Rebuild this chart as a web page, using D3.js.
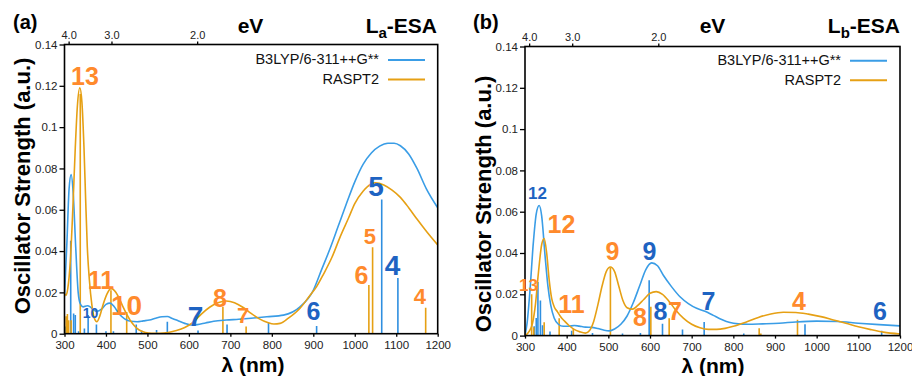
<!DOCTYPE html>
<html><head><meta charset="utf-8">
<script src="https://cdn.jsdelivr.net/npm/d3@7/dist/d3.min.js"></script>
<style>
body{margin:0;background:#fff}
svg{display:block}
text{font-family:"Liberation Sans",Arial,Helvetica,sans-serif}
</style>
</head><body>
<svg id="chart" width="912" height="376"></svg>
<script>
// ---------------- data ----------------
const xTicks = [300,400,500,600,700,800,900,1000,1100,1200];
const yTicks = [0,0.02,0.04,0.06,0.08,0.10,0.12,0.14];
const yTickLabels = ["0","0.02","0.04","0.06","0.08","0.1","0.12","0.14"];
const eVTicks = [4.0,3.0,2.0];
const eVTickLabels = ["4.0","3.0","2.0"];
const seriesNames = ["B3LYP/6-311++G**","RASPT2"];
const panelTags = ["(a)","(b)"];
const panelStates = [["L","a","-ESA"],["L","b","-ESA"]];

// Panel (a) La-ESA : broadened spectra [lambda nm, f]
const laB3lypCurve = [[300,0.018],[306,0.045],[311,0.070],[316,0.077],[321,0.068],[327,0.042],[333,0.020],[338,0.0145],[345,0.013],[355,0.0135],[362,0.013],[370,0.0115],[378,0.0108],[390,0.012],[400,0.0142],[410,0.0148],[420,0.013],[432,0.0095],[445,0.0072],[460,0.006],[475,0.0058],[490,0.0062],[505,0.0066],[520,0.0075],[535,0.0082],[548,0.0083],[560,0.0074],[575,0.0062],[590,0.005],[605,0.0042],[620,0.0044],[640,0.0052],[660,0.006],[690,0.0066],[720,0.007],[750,0.0075],[788,0.0082],[828,0.009],[868,0.013],[900,0.021],[920,0.031],[940,0.041],[960,0.052],[980,0.063],[1000,0.0735],[1020,0.082],[1040,0.0875],[1060,0.0908],[1080,0.0922],[1095,0.0922],[1110,0.091],[1130,0.087],[1150,0.080],[1173,0.070],[1200,0.061]];
const laRaspt2Curve = [[300,0.0194],[304,0.0186],[308,0.022],[314,0.035],[320,0.060],[326,0.090],[331,0.110],[337,0.119],[342,0.112],[347,0.090],[351,0.065],[355,0.042],[360,0.026],[366,0.014],[372,0.0075],[378,0.0058],[385,0.0085],[393,0.014],[402,0.019],[412,0.0218],[420,0.021],[430,0.018],[440,0.0135],[450,0.0095],[460,0.006],[470,0.0035],[480,0.0018],[495,0.0006],[510,0.0002],[530,0.0002],[550,0.0006],[570,0.0015],[590,0.003],[610,0.0055],[630,0.0095],[650,0.0128],[670,0.015],[690,0.0158],[710,0.015],[730,0.0128],[750,0.0098],[770,0.0072],[790,0.0054],[805,0.0047],[820,0.005],[840,0.0075],[868,0.0123],[890,0.018],[908,0.0228],[925,0.029],[945,0.037],[965,0.047],[985,0.056],[1000,0.063],[1020,0.069],[1040,0.0725],[1050,0.073],[1070,0.072],[1090,0.0695],[1110,0.066],[1130,0.061],[1150,0.0555],[1175,0.049],[1200,0.043]];
// Panel (a) stick spectra
const laB3lypSticks = [[302,0.0035],[315,0.045],[322,0.0098],[326,0.009],[334,0.0012],[348,0.0025],[357,0.009],[377,0.0045],[400,0.0012],[418,0.0012],[473,0.0045],[486,0.0015],[522,0.0018],[548,0.0058],[622,0.0015],[692,0.0045],[792,0.0053],[908,0.0037],[1065,0.065],[1104,0.027]];
const laRaspt2Sticks = [[304,0.0085],[307,0.0095],[310,0.0065],[316,0.0065],[338,0.116],[412,0.021],[450,0.0105],[682,0.013],[738,0.0035],[1034,0.0236],[1043,0.0418],[1171,0.0126]];
// Panel (a) state labels: [text, lambda, f, size class]
const laB3lypLabels = [["10",362.7,0.0100,"s"],["7",615.9,0.0088,"xl"],["6",900.5,0.0110,"l"],["5",1051,0.0715,"xl"],["4",1091,0.0333,"xl"]];
const laRaspt2Labels = [["13",349.4,0.1248,"l"],["11",388,0.0260,"l"],["10",449.5,0.0139,"xl"],["8",675,0.0175,"l"],["7",730.5,0.0088,"m"],["6",1016.2,0.0282,"l"],["5",1036.7,0.0471,"m"],["4",1157.3,0.0180,"m"]];

// Panel (b) Lb-ESA : broadened spectra
const lbB3lypCurve = [[300,0.0],[305,0.006],[312,0.022],[320,0.045],[327,0.059],[334,0.063],[340,0.058],[348,0.039],[355,0.024],[362,0.0145],[370,0.0085],[380,0.0055],[392,0.0045],[405,0.0045],[418,0.0049],[430,0.0046],[445,0.0041],[460,0.0040],[475,0.0034],[490,0.0026],[502,0.0023],[515,0.0032],[530,0.0055],[545,0.0095],[560,0.016],[575,0.024],[590,0.032],[604,0.0352],[618,0.0338],[632,0.0292],[652,0.0236],[672,0.0188],[692,0.0155],[712,0.0132],[732,0.0118],[752,0.0098],[772,0.0078],[792,0.0063],[812,0.0057],[835,0.0055],[870,0.0057],[910,0.006],[950,0.0066],[1000,0.007],[1050,0.0068],[1100,0.006],[1150,0.0053],[1200,0.0047]];
const lbRaspt2Curve = [[300,0.0],[310,0.002],[318,0.006],[325,0.015],[332,0.030],[340,0.044],[346,0.047],[352,0.040],[358,0.027],[364,0.018],[370,0.014],[378,0.0115],[386,0.009],[395,0.007],[405,0.005],[418,0.003],[432,0.0018],[445,0.0012],[455,0.0025],[465,0.007],[475,0.015],[485,0.024],[495,0.031],[505,0.0332],[515,0.031],[525,0.024],[535,0.017],[545,0.0135],[558,0.0128],[570,0.0145],[585,0.0175],[600,0.0205],[615,0.0213],[630,0.020],[645,0.0168],[660,0.0128],[680,0.0085],[700,0.0055],[720,0.0038],[740,0.003],[760,0.003],[780,0.0035],[800,0.0045],[830,0.0065],[860,0.0088],[890,0.0105],[920,0.0113],[950,0.0112],[980,0.0104],[1010,0.0092],[1040,0.0076],[1070,0.006],[1100,0.0043],[1130,0.0029],[1160,0.0017],[1200,0.0008]];
// Panel (b) stick spectra
const lbB3lypSticks = [[322,0.0045],[327,0.0085],[331,0.026],[337,0.017],[342,0.005],[360,0.002],[412,0.0024],[462,0.0012],[534,0.001],[577,0.0012],[598,0.0268],[630,0.0057],[678,0.003],[730,0.0066],[825,0.001],[972,0.0055],[1156,0.0023]];
const lbRaspt2Sticks = [[316,0.020],[321,0.004],[346,0.0065],[382,0.0084],[416,0.0032],[505,0.033],[602,0.014],[646,0.0084],[862,0.0036],[866,0.001],[954,0.0077]];
// Panel (b) state labels
const lbB3lypLabels = [["12",330,0.0690,"s2"],["9",598.8,0.0411,"l"],["8",625.2,0.0119,"l"],["7",740.4,0.0166,"l"],["6",1152,0.0119,"l"]];
const lbRaspt2Labels = [["13",308.4,0.0246,"s2"],["12",387.6,0.0542,"l"],["11",411.6,0.0153,"l"],["9",510,0.0411,"l"],["8",576,0.0088,"l"],["7",660,0.0119,"l"],["4",957.6,0.0168,"l"]];

// ---------------- style ----------------
const C = {
  blueCurve:"#3a9de6", orangeCurve:"#e6a014",
  blueStick:"#2f8fe0", orangeStick:"#e6a014",
  blueLabel:"#1e63c2", orangeLabel:"#ff8a2c",
  axis:"#000", tick:"#222"
};
const labelSize = {s:14, s2:17, m:22, l:25, xl:28};
const hc = 1239.84;

const panels = [
  {box:{l:64.5,r:437.7,t:44.5,b:333.7}, tagX:13, evX:250.5, stateX:437, yLab:{x:22,y:186}, xLab:{x:253,y:371.5},
   legend:{textX:379,lineX1:388,lineX2:425,y1:60,y2:79.5},
   curves:[laB3lypCurve,laRaspt2Curve], sticks:[laB3lypSticks,laRaspt2Sticks], labels:[laB3lypLabels,laRaspt2Labels]},
  {box:{l:525,r:900,t:46.5,b:335.6}, tagX:473, evX:712.5, stateX:900, yLab:{x:483,y:204}, xLab:{x:713,y:373},
   legend:{textX:841,lineX1:850,lineX2:887,y1:60.7,y2:80.3},
   curves:[lbB3lypCurve,lbRaspt2Curve], sticks:[lbB3lypSticks,lbRaspt2Sticks], labels:[lbB3lypLabels,lbRaspt2Labels]}
];

const svg = d3.select("#chart");
svg.append("rect").attr("width",912).attr("height",376).attr("fill","#fff");

panels.forEach((p,pi)=>{
  const B = p.box;
  const x = d3.scaleLinear().domain([300,1200]).range([B.l,B.r]);
  const y = d3.scaleLinear().domain([0,0.14]).range([B.b,B.t]);
  const g = svg.append("g");
  const clipId = "clip"+pi;
  g.append("clipPath").attr("id",clipId).append("rect")
    .attr("x",B.l).attr("y",B.t).attr("width",B.r-B.l).attr("height",B.b-B.t);
  const plot = g.append("g").attr("clip-path",`url(#${clipId})`);

  // sticks
  const stickCols = [C.blueStick, C.orangeStick];
  p.sticks.forEach((s,si)=>{
    plot.selectAll(null).data(s).enter().append("line")
      .attr("x1",d=>x(d[0])).attr("x2",d=>x(d[0]))
      .attr("y1",y(0)).attr("y2",d=>y(d[1]))
      .attr("stroke",stickCols[si]).attr("stroke-width",1.6);
  });
  // curves
  const line = d3.line().x(d=>x(d[0])).y(d=>y(d[1])).curve(d3.curveMonotoneX);
  const curveCols = [C.blueCurve, C.orangeCurve];
  p.curves.forEach((c,ci)=>{
    plot.append("path").attr("d",line(c)).attr("fill","none")
      .attr("stroke",curveCols[ci]).attr("stroke-width",1.6);
  });

  // axes
  const ax = d3.axisBottom(x).tickValues(xTicks).tickFormat(d3.format("d")).tickSize(3).tickPadding(4);
  const ag = g.append("g").attr("transform",`translate(0,${B.b})`).call(ax);
  const ay = d3.axisLeft(y).tickValues(yTicks).tickFormat((d,i)=>yTickLabels[i]).tickSize(5).tickPadding(2);
  const yg = g.append("g").attr("transform",`translate(${B.l},0)`).call(ay);
  const at = d3.axisTop(x).tickValues(eVTicks.map(e=>hc/e)).tickFormat((d,i)=>eVTickLabels[i]).tickSize(3).tickPadding(3);
  const tg = g.append("g").attr("transform",`translate(0,${B.t})`).call(at);
  [ag,yg,tg].forEach(a=>{
    a.select(".domain").remove();
    a.selectAll(".tick line").attr("stroke",C.axis).attr("stroke-width",1.3);
    a.selectAll(".tick text").attr("fill",C.tick).style("font-size","11.5px")
      .style("font-family",'"Liberation Sans",Arial,Helvetica,sans-serif');
  });
  tg.selectAll(".tick text").style("font-size","11px");
  g.append("rect").attr("x",B.l).attr("y",B.t).attr("width",B.r-B.l).attr("height",B.b-B.t)
    .attr("fill","none").attr("stroke",C.axis).attr("stroke-width",1.6);

  // state labels
  const labCols = [C.blueLabel, C.orangeLabel];
  p.labels.forEach((ls,li)=>{
    g.selectAll(null).data(ls).enter().append("text")
      .attr("x",d=>x(d[1])).attr("y",d=>y(d[2]))
      .attr("dy","0.36em").attr("text-anchor","middle")
      .attr("font-weight","bold").attr("font-size",d=>labelSize[d[3]]+"px")
      .attr("fill",labCols[li]).text(d=>d[0]);
  });

  // legend
  const L = p.legend;
  [[L.y1,C.blueCurve],[L.y2,C.orangeCurve]].forEach((r,ri)=>{
    g.append("text").attr("x",L.textX).attr("y",r[0]).attr("dy","0.3em")
      .attr("text-anchor","end").attr("font-size","14.5px").attr("fill","#111").text(seriesNames[ri]);
    g.append("line").attr("x1",L.lineX1).attr("x2",L.lineX2).attr("y1",r[0]).attr("y2",r[0])
      .attr("stroke",r[1]).attr("stroke-width",2);
  });

  // titles
  g.append("text").attr("x",p.tagX).attr("y",29).attr("font-weight","bold").attr("font-size","20px")
    .attr("fill","#000").text(panelTags[pi]);
  g.append("text").attr("x",p.evX).attr("y",33).attr("text-anchor","middle").attr("font-weight","bold")
    .attr("font-size","21px").attr("fill","#000").text("eV");
  const st = g.append("text").attr("x",p.stateX).attr("y",33).attr("text-anchor","end")
    .attr("font-weight","bold").attr("font-size","21px").attr("fill","#000");
  st.append("tspan").text(panelStates[pi][0]);
  st.append("tspan").attr("font-size","15px").attr("dy","5").text(panelStates[pi][1]);
  st.append("tspan").attr("dy","-5").text(panelStates[pi][2]);

  // axis titles
  g.append("text").attr("transform",`translate(${p.yLab.x},${p.yLab.y}) rotate(-90)`)
    .attr("text-anchor","middle").attr("dy","0.35em").attr("font-weight","bold").attr("font-size","22px")
    .attr("fill","#000").text("Oscillator Strength (a.u.)");
  g.append("text").attr("x",p.xLab.x).attr("y",p.xLab.y).attr("text-anchor","middle")
    .attr("font-weight","bold").attr("font-size","21px").attr("fill","#000").text("λ (nm)");
});
</script>
</body></html>
